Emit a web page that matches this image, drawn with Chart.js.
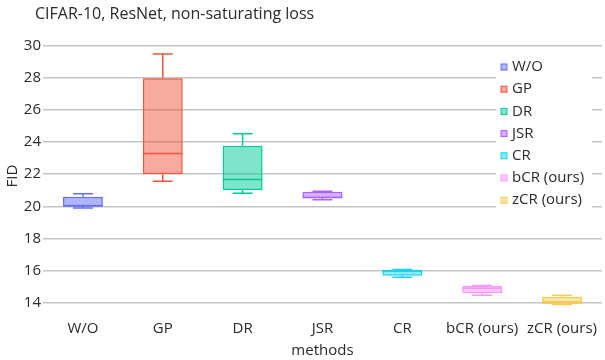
<!DOCTYPE html>
<html>
<head>
<meta charset="utf-8">
<script src="https://cdn.jsdelivr.net/npm/chart.js@4"></script>
<style>
  html, body { margin: 0; padding: 0; background: #fff; }
  #wrap { width: 605px; height: 360px; }
</style>
</head>
<body>
<div id="wrap"><canvas id="grafica" width="605" height="360"></canvas></div>
<script>
const metodos = ['W/O', 'GP', 'DR', 'JSR', 'CR', 'bCR (ours)', 'zCR (ours)']
const minimos = [19.9, 21.56, 20.81, 20.4, 15.58, 14.46, 13.88]
const q1 = [20.0, 22.0, 21.01, 20.5, 15.68, 14.58, 13.9]
const medianas = [20.02, 23.28, 21.66, 20.55, 15.95, 14.9, 14.06]
const q3 = [20.6, 27.97, 23.77, 20.91, 16.05, 15.04, 14.37]
const maximos = [20.78, 29.48, 24.52, 20.93, 16.07, 15.07, 14.46]
const yTicks = [14, 16, 18, 20, 22, 24, 26, 28, 30]

const colores = ['#636EFA', '#EF553B', '#00CC96', '#AB63FA', '#19D3F3', '#FF97FF', '#FECB52']

const fuente = '"Open Sans", sans-serif'
const gris = '#2a2a2a'

function alfa(hex, a) {
    const n = parseInt(hex.slice(1), 16)
    return `rgba(${(n >> 16) & 255}, ${(n >> 8) & 255}, ${n & 255}, ${a})`
}

// una serie por metodo, caja flotante de q1 a q3
const datasets = metodos.map((m, i) => ({
    label: m,
    data: metodos.map((_, j) => j === i ? [q1[i], q3[i]] : null),
    backgroundColor: alfa(colores[i], 0.5),
    borderColor: colores[i],
    borderWidth: 1.5,
    borderSkipped: false,
    grouped: false,
    barPercentage: 0.5,
    categoryPercentage: 1
}))

// bigotes y mediana
const bigotes = {
    id: 'bigotes',
    afterDatasetsDraw(chart) {
        const { ctx, scales: { x, y } } = chart
        ctx.save()
        metodos.forEach((m, i) => {
            const cx = x.getPixelForValue(i)
            const w = x.width / metodos.length * 0.5
            ctx.strokeStyle = colores[i]
            ctx.lineWidth = 1.5
            ctx.beginPath()
            ctx.moveTo(cx, y.getPixelForValue(maximos[i]))
            ctx.lineTo(cx, y.getPixelForValue(q3[i]))
            ctx.moveTo(cx, y.getPixelForValue(q1[i]))
            ctx.lineTo(cx, y.getPixelForValue(minimos[i]))
            ctx.moveTo(cx - w / 4, y.getPixelForValue(maximos[i]))
            ctx.lineTo(cx + w / 4, y.getPixelForValue(maximos[i]))
            ctx.moveTo(cx - w / 4, y.getPixelForValue(minimos[i]))
            ctx.lineTo(cx + w / 4, y.getPixelForValue(minimos[i]))
            ctx.moveTo(cx - w / 2, y.getPixelForValue(medianas[i]))
            ctx.lineTo(cx + w / 2, y.getPixelForValue(medianas[i]))
            ctx.stroke()
        })
        ctx.restore()
    }
}

// titulo y leyenda dentro del area
const extras = {
    id: 'extras',
    afterDraw(chart) {
        const { ctx } = chart
        ctx.save()
        ctx.fillStyle = gris
        ctx.font = '16px ' + fuente
        ctx.textBaseline = 'middle'
        ctx.fillText('CIFAR-10, ResNet, non-saturating loss', 35, 14)

        const lx = 496, ly = 56
        ctx.fillStyle = '#fff'
        ctx.fillRect(lx, ly, 96, 156)
        ctx.font = '15px ' + fuente
        chart.data.datasets.forEach((d, i) => {
            const yy = 67 + i * 22.2
            ctx.fillStyle = d.backgroundColor
            ctx.strokeStyle = d.borderColor
            ctx.lineWidth = 1
            ctx.fillRect(lx + 5, yy - 3, 6, 6)
            ctx.strokeRect(lx + 5, yy - 3, 6, 6)
            ctx.fillStyle = gris
            ctx.fillText(d.label, lx + 16, yy)
        })
        ctx.restore()
    }
}

new Chart(document.getElementById('grafica').getContext('2d'), {
    type: 'bar',
    data: { labels: metodos, datasets },
    plugins: [bigotes, extras],
    options: {
        responsive: false,
        animation: false,
        layout: { padding: { top: 40, right: 0, left: 0, bottom: 0 } },
        plugins: {
            legend: { display: false },
            tooltip: { enabled: false }
        },
        scales: {
            x: {
                grid: { display: false, drawTicks: false },
                border: { display: false },
                ticks: { color: gris, font: { family: fuente, size: 15 }, padding: 8 },
                title: { display: true, text: 'methods', color: gris, font: { family: fuente, size: 15 }, padding: { top: 0, bottom: 0 } },
                afterFit: s => { s.height = 48 }
            },
            y: {
                min: 13.42,
                max: 30.35,
                grid: { color: '#c4c4c4', lineWidth: 1.5, drawTicks: false },
                border: { display: false },
                ticks: { color: gris, font: { family: fuente, size: 15 }, padding: 2 },
                afterBuildTicks: s => { s.ticks = yTicks.map(v => ({ value: v })) },
                title: { display: true, text: 'FID', color: gris, font: { family: fuente, size: 15 }, padding: { top: 4, bottom: 0 } },
                afterFit: s => { s.width = 43 }
            }
        }
    }
})
</script>
</body>
</html>
